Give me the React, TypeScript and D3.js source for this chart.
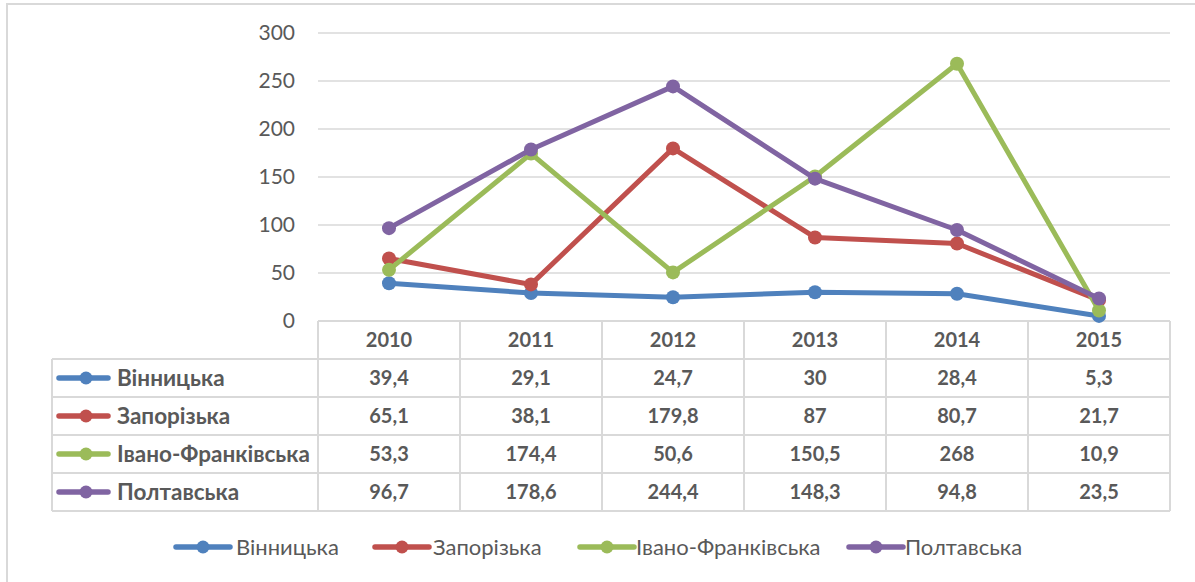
import React from "react";
import * as d3 from "d3";

const years = ["2010", "2011", "2012", "2013", "2014", "2015"];
const seriesNames = ["Вінницька", "Запорізька", "Івано-Франківська", "Полтавська"];
const vinnytska = [39.4, 29.1, 24.7, 30, 28.4, 5.3];
const zaporizka = [65.1, 38.1, 179.8, 87, 80.7, 21.7];
const ivanoFrankivska = [53.3, 174.4, 50.6, 150.5, 268, 10.9];
const poltavska = [96.7, 178.6, 244.4, 148.3, 94.8, 23.5];
const yTicks = [0, 50, 100, 150, 200, 250, 300];
const colors = ["#4F81BD", "#C0504D", "#9BBB59", "#8064A2"];

const seriesValues = [vinnytska, zaporizka, ivanoFrankivska, poltavska];

const W = 1195;
const H = 582;
const FONT = "Lato, 'Open Sans', sans-serif";
const TEXT = "#595959";
const GRID = "#D9D9D9";

const fmt = (v: number) => String(v).replace(".", ",");

export default function App() {
  const plotLeft = 318;
  const plotRight = 1170;
  const y = d3.scaleLinear().domain([0, 300]).range([321, 33]);
  const x = d3.scaleBand().domain(years).range([plotLeft, plotRight]);
  const cx = (yr: string) => (x(yr) as number) + x.bandwidth() / 2;

  const tableLeft = 52;
  const rowTops = [321, 359, 397, 435, 473, 511];
  const line = d3
    .line<number>()
    .x((_, i) => cx(years[i]))
    .y((d) => y(d));

  const legendItems = [
    { lx: 176, tx: 236 },
    { lx: 375, tx: 433 },
    { lx: 580, tx: 636 },
    { lx: 849, tx: 905 },
  ];

  return (
    <svg
      width={W}
      height={H}
      style={{ position: "absolute", left: 0, top: 0, background: "#fff" }}
      fontFamily={FONT}
    >
      <rect x={7} y={4} width={W} height={H} fill="#fff" stroke={GRID} strokeWidth={2} />
      {/* gridlines */}
      {yTicks.map((t) =>
        t === 0 ? null : (
          <line key={t} x1={plotLeft} x2={plotRight} y1={y(t)} y2={y(t)} stroke={GRID} strokeWidth={1.5} />
        )
      )}
      {/* y tick labels */}
      {yTicks.map((t) => (
        <text key={t} x={295} y={y(t)} dy="0.35em" textAnchor="end" fontSize={21} fill={TEXT}>
          {t}
        </text>
      ))}
      {/* table grid */}
      <g stroke={GRID} strokeWidth={2} fill="none">
        <line x1={plotLeft} x2={plotRight} y1={rowTops[0]} y2={rowTops[0]} />
        {rowTops.slice(1).map((ry) => (
          <line key={ry} x1={tableLeft} x2={plotRight} y1={ry} y2={ry} />
        ))}
        <line x1={tableLeft} x2={tableLeft} y1={rowTops[1]} y2={rowTops[5]} />
        {years.map((yr) => (
          <line key={yr} x1={x(yr)} x2={x(yr)} y1={rowTops[0]} y2={rowTops[5]} />
        ))}
        <line x1={plotRight} x2={plotRight} y1={rowTops[0]} y2={rowTops[5]} />
      </g>
      {/* header */}
      {years.map((yr) => (
        <text key={yr} x={cx(yr)} y={(rowTops[0] + rowTops[1]) / 2} dy="0.35em" textAnchor="middle" fontSize={20} fontWeight={700} fill={TEXT}>
          {yr}
        </text>
      ))}
      {/* rows */}
      {seriesNames.map((name, si) => {
        const cy = (rowTops[si + 1] + rowTops[si + 2]) / 2;
        return (
          <g key={name}>
            <line x1={59} x2={108} y1={cy} y2={cy} stroke={colors[si]} strokeWidth={5.5} strokeLinecap="round" />
            <circle cx={86} cy={cy} r={6.5} fill={colors[si]} />
            <text x={117} y={cy} dy="0.35em" fontSize={22.5} fontWeight={700} fill={TEXT}>
              {name}
            </text>
            {seriesValues[si].map((v, i) => (
              <text key={i} x={cx(years[i])} y={cy} dy="0.35em" textAnchor="middle" fontSize={20} fontWeight={700} fill={TEXT}>
                {fmt(v)}
              </text>
            ))}
          </g>
        );
      })}
      {/* lines */}
      {seriesValues.map((vals, si) => (
        <g key={si}>
          <path d={line(vals) as string} fill="none" stroke={colors[si]} strokeWidth={5} strokeLinejoin="round" strokeLinecap="round" />
          {vals.map((v, i) => (
            <circle key={i} cx={cx(years[i])} cy={y(v)} r={7} fill={colors[si]} />
          ))}
        </g>
      ))}
      {/* legend */}
      {seriesNames.map((name, si) => {
        const it = legendItems[si];
        const ly = 547;
        return (
          <g key={name}>
            <line x1={it.lx} x2={it.lx + 54} y1={ly} y2={ly} stroke={colors[si]} strokeWidth={5.5} strokeLinecap="round" />
            <circle cx={it.lx + 27} cy={ly} r={6.5} fill={colors[si]} />
            <text x={it.tx} y={ly} dy="0.35em" fontSize={22} fill={TEXT}>
              {name}
            </text>
          </g>
        );
      })}
    </svg>
  );
}
